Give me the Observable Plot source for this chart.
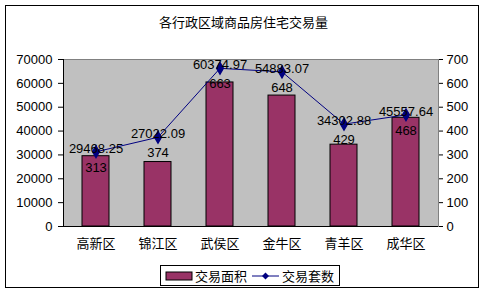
<!DOCTYPE html>
<html><head><meta charset="utf-8">
<script src="https://cdn.jsdelivr.net/npm/d3@7"></script>
<script src="https://cdn.jsdelivr.net/npm/@observablehq/plot@0.6"></script>
<style>
body{margin:0;background:#fff;}
#wrap{position:relative;width:487px;height:296px;font-family:"Liberation Sans","Noto Sans CJK SC",sans-serif;}
#border{position:absolute;left:5px;top:5px;width:474px;height:283px;border:1px solid #000;box-sizing:border-box;}
#title{position:absolute;left:0;width:487px;top:14px;text-align:center;font-size:13px;font-family:"Noto Sans CJK SC",sans-serif;line-height:16px;}
#legend{position:absolute;left:160px;top:265px;width:180px;height:21px;border:1px solid #000;box-sizing:border-box;font-size:13px;font-family:"Noto Sans CJK SC",sans-serif;display:flex;align-items:center;}
#chart{position:absolute;left:0;top:0;}
</style></head>
<body>
<div id="wrap">
<div id="border"></div>
<div id="chart"></div>
<div id="title"></div>
<div id="legend"></div>
</div>
<script>
const title = "各行政区域商品房住宅交易量";
const districts = ["高新区","锦江区","武侯区","金牛区","青羊区","成华区"];
const areaValues = [29468.25, 27022.09, 60374.97, 54883.07, 34302.88, 45557.64];
const countValues = [313, 374, 663, 648, 429, 468];
const leftTicks = [0,10000,20000,30000,40000,50000,60000,70000];
const rightTicks = [0,100,200,300,400,500,600,700];
const seriesNames = ["交易面积","交易套数"];

const barColor = "#993366";
const lineColor = "#000080";
const ratio = leftTicks[leftTicks.length-1] / rightTicks[rightTicks.length-1];

const data = districts.map((d,i)=>({district:d, area:areaValues[i], count:countValues[i], countScaled:countValues[i]*ratio}));

document.getElementById("title").textContent = title;

const chart = Plot.plot({
  width: 487, height: 296,
  marginLeft: 63, marginRight: 49, marginTop: 59, marginBottom: 70,
  style: {fontFamily: "Liberation Sans, Noto Sans CJK SC, sans-serif", fontSize: "13px", color: "#000", background: "transparent"},
  x: {domain: districts, paddingInner: 0.57, paddingOuter: 0.285},
  y: {domain: [0, leftTicks[leftTicks.length-1]]},
  marks: [
    Plot.frame({fill: "#c0c0c0", stroke: "#808080"}),
    Plot.barY(data, {x: "district", y: "area", fill: barColor, stroke: "#000", strokeWidth: 1}),
    Plot.ruleY([0], {stroke: "#000"}),
    Plot.frame({anchor: "left", stroke: "#000"}),
    Plot.axisY({anchor: "left", ticks: leftTicks, tickSize: 5, tickPadding: 6, tickFormat: d => String(d), label: null, fontSize: 13}),
    Plot.axisY({anchor: "right", ticks: leftTicks, tickSize: 4, tickPadding: 4, tickFormat: d => String(d/ratio), label: null, fontSize: 13}),
    Plot.axisX({tickSize: 0, tickPadding: 12, label: null, fontFamily: "Noto Sans CJK SC", fontSize: 13}),
    Plot.line(data, {x: "district", y: "countScaled", stroke: lineColor, strokeWidth: 1}),
    Plot.dot(data, {x: "district", y: "countScaled", symbol: "diamond", r: 3.5, fill: lineColor, stroke: lineColor}),
    Plot.text(data, {x: "district", y: "countScaled", text: d => d.area.toFixed(2), dy: -3, fontSize: 13, fill: "#000"}),
    Plot.text(data, {x: "district", y: "countScaled", text: d => String(d.count), dy: 16, fontSize: 13, fill: "#000"})
  ]
});
document.getElementById("chart").appendChild(chart);

const legend = document.getElementById("legend");
legend.innerHTML = `
<svg width="178" height="19" style="position:absolute;left:0;top:0">
  <rect x="5" y="6" width="26" height="8" fill="${barColor}" stroke="#000"/>
  <text x="34" y="14.5" font-size="13">${seriesNames[0]}</text>
  <line x1="91" x2="118" y1="10" y2="10" stroke="${lineColor}"/>
  <path d="M104.5,6.5 L108,10 L104.5,13.5 L101,10 Z" fill="${lineColor}"/>
  <text x="121" y="14.5" font-size="13">${seriesNames[1]}</text>
</svg>`;
</script>
</body></html>
